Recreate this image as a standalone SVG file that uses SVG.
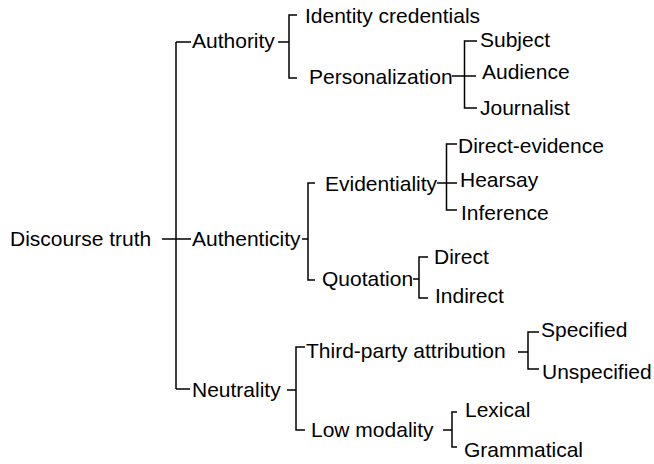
<svg xmlns="http://www.w3.org/2000/svg" width="654" height="464" viewBox="0 0 654 464">
  <style>
    text { font-family: "Liberation Sans", Arial, sans-serif; font-size: 21px; fill: #000; }
    .edge { stroke: #000; stroke-width: 1.5; fill: none; stroke-linecap: butt; }
  </style>
  <rect width="654" height="464" fill="#fff"/>

  <!-- connectors: trunk, brackets and ticks -->
  <g id="connectors">
    <path class="edge" d="M162,239 H176 M176,42 V389 M176,42 H191 M176,239 H191 M176,389 H190"/>
    <path class="edge" d="M278,42 H289 M297,15 H289 V78 H297"/>
    <path class="edge" d="M452,76 H476 M477,41 H464.5 V108 H477"/>
    <path class="edge" d="M302,239 H308 M315,183 H308 V280 H315"/>
    <path class="edge" d="M437,183 H457 M457,144 H446.5 V210 H457"/>
    <path class="edge" d="M413,279 H419 M428,257 H419 V298 H428"/>
    <path class="edge" d="M287,390 H296 M305,347 H296 V430 H305"/>
    <path class="edge" d="M518,352 H528 M539,332 H528 V369 H539"/>
    <path class="edge" d="M443,430 H452 M457,412 H452 V447 H457"/>
  </g>

  <g id="discourse-truth"><text x="10" y="246">Discourse truth</text></g>

  <g id="authority"><text x="192" y="48">Authority</text></g>
  <g id="identity-credentials"><text x="305" y="23">Identity credentials</text></g>
  <g id="personalization"><text x="309" y="84">Personalization</text></g>
  <g id="subject"><text x="480" y="47">Subject</text></g>
  <g id="audience"><text x="482" y="79">Audience</text></g>
  <g id="journalist"><text x="480" y="115">Journalist</text></g>

  <g id="authenticity"><text x="192" y="246">Authenticity</text></g>
  <g id="evidentiality"><text x="325" y="191">Evidentiality</text></g>
  <g id="direct-evidence"><text x="458" y="153">Direct-evidence</text></g>
  <g id="hearsay"><text x="460" y="187">Hearsay</text></g>
  <g id="inference"><text x="461" y="220">Inference</text></g>
  <g id="quotation"><text x="322" y="286">Quotation</text></g>
  <g id="direct"><text x="434" y="264">Direct</text></g>
  <g id="indirect"><text x="435" y="303">Indirect</text></g>

  <g id="neutrality"><text x="192" y="397">Neutrality</text></g>
  <g id="third-party-attribution"><text x="306" y="358">Third-party attribution</text></g>
  <g id="specified"><text x="541" y="337">Specified</text></g>
  <g id="unspecified"><text x="542" y="379">Unspecified</text></g>
  <g id="low-modality"><text x="311" y="437">Low modality</text></g>
  <g id="lexical"><text x="465" y="417">Lexical</text></g>
  <g id="grammatical"><text x="464" y="457">Grammatical</text></g>
</svg>
